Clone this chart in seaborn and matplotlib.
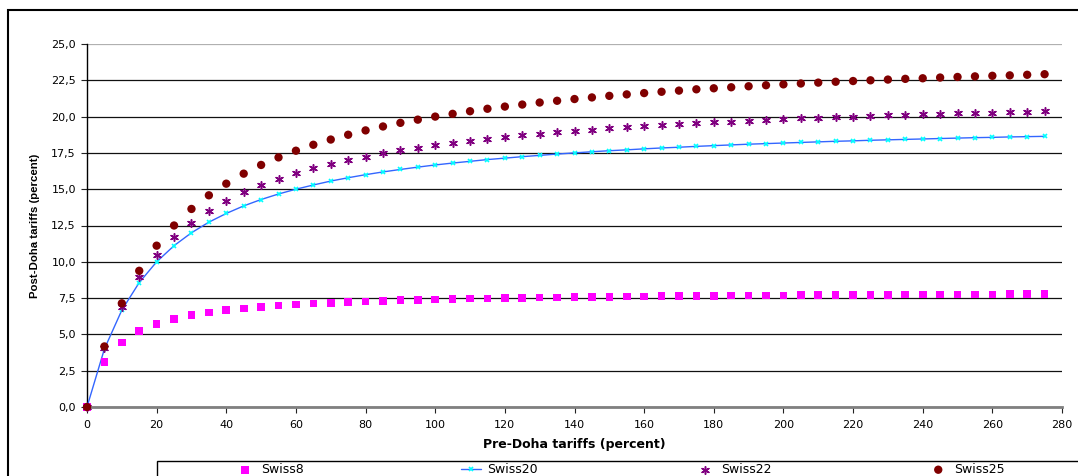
import numpy as np
import pandas as pd
import seaborn as sns
import matplotlib.pyplot as plt
from matplotlib.patches import Rectangle
from matplotlib.ticker import FuncFormatter

# Pre-Doha tariff levels (percent)
pre_doha = [0, 5, 10, 15, 20, 25, 30, 35, 40, 45, 50, 55, 60, 65, 70, 75, 80, 85, 90, 95,
            100, 105, 110, 115, 120, 125, 130, 135, 140, 145, 150, 155, 160, 165, 170, 175,
            180, 185, 190, 195, 200, 205, 210, 215, 220, 225, 230, 235, 240, 245, 250, 255,
            260, 265, 270, 275]

# Post-Doha tariffs
swiss8 = [0, 3.08, 4.44, 5.22, 5.71, 6.06, 6.32, 6.51, 6.67, 6.79, 6.90, 6.98, 7.06, 7.12,
          7.18, 7.23, 7.27, 7.31, 7.35, 7.38, 7.41, 7.43, 7.46, 7.48, 7.50, 7.52, 7.54, 7.55,
          7.57, 7.58, 7.59, 7.61, 7.62, 7.63, 7.64, 7.65, 7.66, 7.67, 7.68, 7.68, 7.69, 7.70,
          7.71, 7.71, 7.72, 7.73, 7.73, 7.74, 7.74, 7.75, 7.75, 7.76, 7.76, 7.77, 7.77, 7.77]
swiss20 = [0, 4.00, 6.67, 8.57, 10.00, 11.11, 12.00, 12.73, 13.33, 13.85, 14.29, 14.67, 15.00,
           15.29, 15.56, 15.79, 16.00, 16.19, 16.36, 16.52, 16.67, 16.80, 16.92, 17.04, 17.14,
           17.24, 17.33, 17.42, 17.50, 17.58, 17.65, 17.71, 17.78, 17.84, 17.89, 17.95, 18.00,
           18.05, 18.10, 18.14, 18.18, 18.22, 18.26, 18.30, 18.33, 18.37, 18.40, 18.43, 18.46,
           18.49, 18.52, 18.55, 18.57, 18.60, 18.62, 18.64]
swiss22 = [0, 4.07, 6.88, 8.92, 10.48, 11.70, 12.69, 13.51, 14.19, 14.78, 15.28, 15.71, 16.10,
           16.44, 16.74, 17.01, 17.25, 17.48, 17.68, 17.86, 18.03, 18.19, 18.33, 18.47, 18.59,
           18.71, 18.82, 18.92, 19.01, 19.10, 19.19, 19.27, 19.34, 19.41, 19.48, 19.54, 19.60,
           19.66, 19.72, 19.77, 19.82, 19.87, 19.91, 19.96, 20.00, 20.04, 20.08, 20.12, 20.15,
           20.19, 20.22, 20.25, 20.28, 20.31, 20.34, 20.37]
swiss25 = [0, 4.17, 7.14, 9.38, 11.11, 12.50, 13.64, 14.58, 15.38, 16.07, 16.67, 17.19, 17.65,
           18.06, 18.42, 18.75, 19.05, 19.32, 19.57, 19.79, 20.00, 20.19, 20.37, 20.54, 20.69,
           20.83, 20.97, 21.09, 21.21, 21.32, 21.43, 21.53, 21.62, 21.71, 21.79, 21.88, 21.95,
           22.02, 22.09, 22.16, 22.22, 22.28, 22.34, 22.40, 22.45, 22.50, 22.55, 22.60, 22.64,
           22.69, 22.73, 22.77, 22.81, 22.84, 22.88, 22.92]

x_ticks = [0, 20, 40, 60, 80, 100, 120, 140, 160, 180, 200, 220, 240, 260, 280]
y_ticks = [0, 2.5, 5, 7.5, 10, 12.5, 15, 17.5, 20, 22.5, 25]

df = pd.DataFrame({'pre': pre_doha, 'Swiss8': swiss8, 'Swiss20': swiss20,
                   'Swiss22': swiss22, 'Swiss25': swiss25})

sns.set_style('white')
plt.rcParams['font.family'] = ['DejaVu Sans']
plt.rcParams['text.color'] = 'black'
plt.rcParams['axes.labelcolor'] = 'black'
plt.rcParams['xtick.color'] = 'black'
plt.rcParams['ytick.color'] = 'black'

fig = plt.figure(figsize=(10.78, 4.76), dpi=100)
ax = fig.add_axes([87 / 1078, 1 - 407 / 476, (1062 - 87) / 1078, (407 - 44) / 476])

# Swiss20: line with small cyan markers
sns.lineplot(data=df, x='pre', y='Swiss20', ax=ax, color='#3366ff', lw=1,
             marker='x', markersize=3.5, markeredgecolor='#00ffff', markeredgewidth=1.2,
             label='Swiss20', clip_on=False, zorder=3)
sns.scatterplot(data=df, x='pre', y='Swiss8', ax=ax, marker='s', color='#ff00ff',
                s=30, edgecolor='none', label='Swiss8', clip_on=False, zorder=4)
sns.scatterplot(data=df, x='pre', y='Swiss22', ax=ax, marker=(6, 2, 0), color='#800080',
                s=30, linewidth=1.1, label='Swiss22', clip_on=False, zorder=4)
sns.scatterplot(data=df, x='pre', y='Swiss25', ax=ax, marker='o', color='#800000',
                s=36, edgecolor='none', label='Swiss25', clip_on=False, zorder=5)

ax.set_xlim(0, 280)
ax.set_ylim(0, 25)
ax.set_xticks(x_ticks)
ax.set_yticks(y_ticks)
ax.yaxis.set_major_formatter(FuncFormatter(lambda v, p: f'{v:.1f}'.replace('.', ',')))
ax.tick_params(axis='both', labelsize=8, direction='out', length=4, width=0.8,
               color='#222222', labelcolor='black', left=True, bottom=True)
ax.tick_params(axis='x', pad=5)
ax.tick_params(axis='y', pad=4)

ax.grid(axis='y', color='#111111', lw=0.9, zorder=0)
ax.grid(axis='x', visible=False)
ax.get_ygridlines()[-1].set_color('#b0b0b0')
ax.set_axisbelow(True)

for side in ['top', 'right']:
    ax.spines[side].set_visible(False)
ax.spines['left'].set_color('black')
ax.spines['left'].set_linewidth(1)
ax.spines['bottom'].set_color('#808080')
ax.spines['bottom'].set_linewidth(2)

ax.set_xlabel('Pre-Doha tariffs (percent)', fontsize=9, fontweight='bold', labelpad=6,
              color='black')
ax.set_ylabel('Post-Doha tariffs (percent)', fontsize=8.2, fontweight='bold',
              family='Liberation Sans', labelpad=8, color='black')

# legend along the bottom, frame drawn separately (cut by the image edge)
handles, labels = ax.get_legend_handles_labels()
order = [labels.index(n) for n in ['Swiss8', 'Swiss20', 'Swiss22', 'Swiss25']]
ax.get_legend().remove()
leg = fig.legend([handles[i] for i in order], [labels[i] for i in order],
                 loc='upper left', bbox_to_anchor=(235 / 1078, 1 - 463 / 476), ncol=4,
                 frameon=False, fontsize=9, handlelength=1.6, handletextpad=0.5,
                 columnspacing=12.55, borderpad=0, borderaxespad=0)
for t in leg.get_texts():
    t.set_color('black')
fig.patches.append(Rectangle((157 / 1078, -0.1), 1.0, 0.1 + (1 - 461 / 476),
                             transform=fig.transFigure, fill=False, edgecolor='black',
                             lw=1, clip_on=False))

# outer chart border
fig.patches.append(Rectangle((8 / 1078, -0.1), 1.1, 0.1 + (1 - 10 / 476),
                             transform=fig.transFigure, fill=False, edgecolor='black',
                             lw=1.5, clip_on=False))

fig.savefig('out.png', dpi=100)
